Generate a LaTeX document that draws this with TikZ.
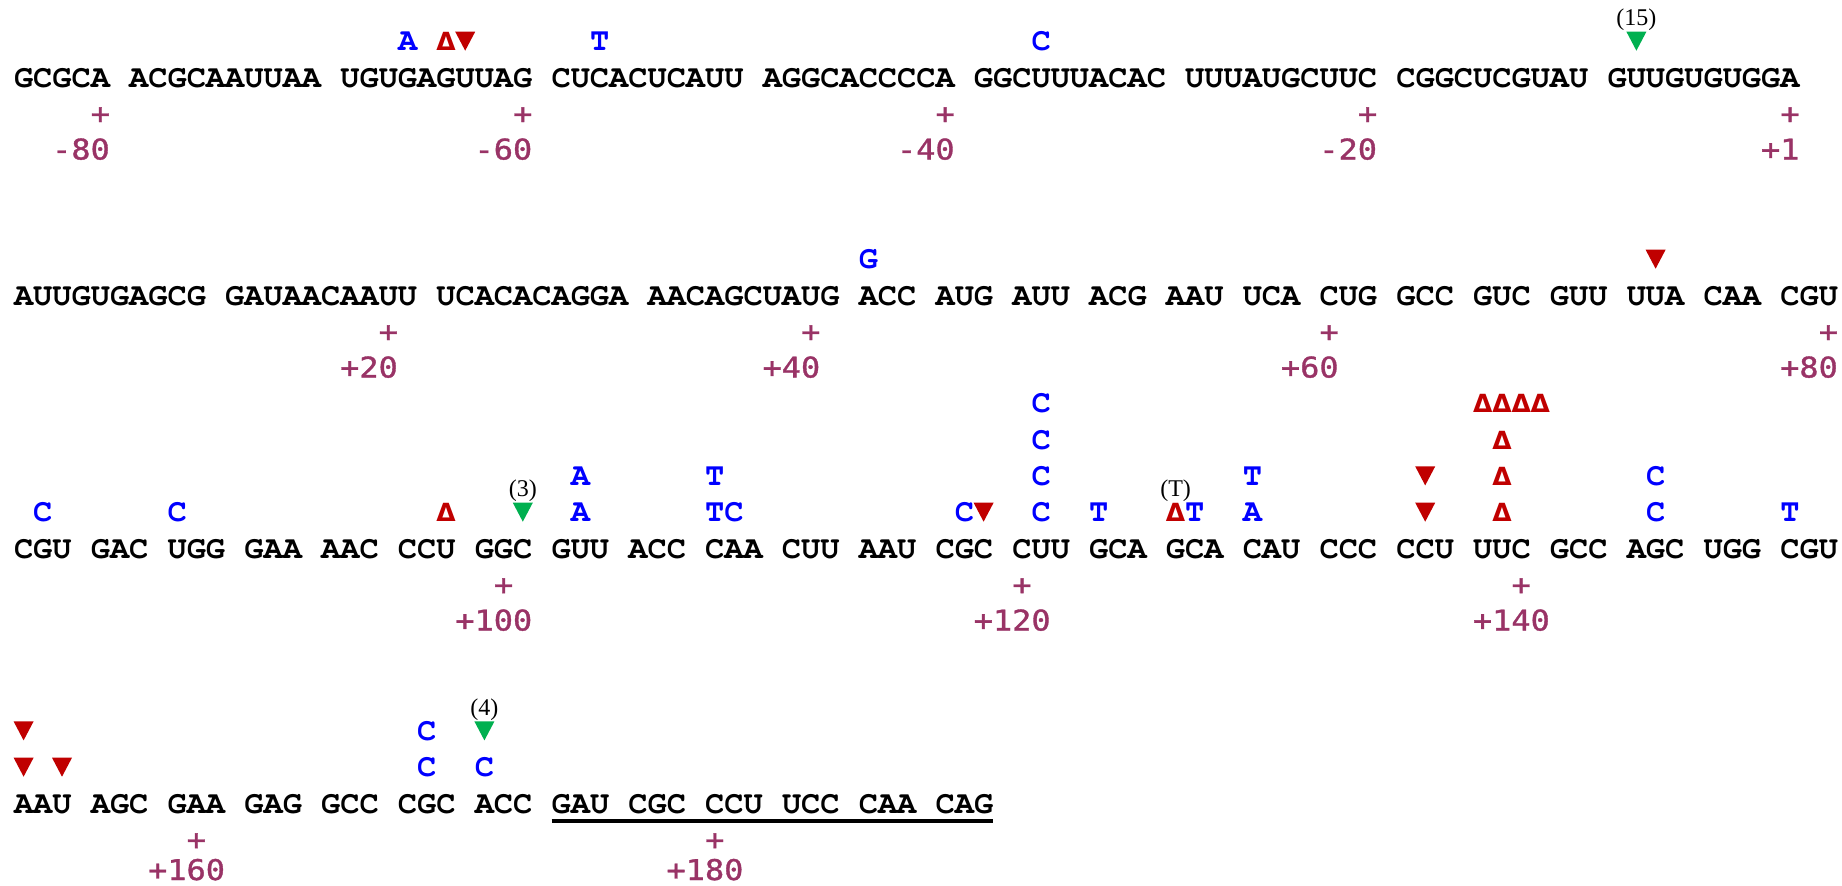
\documentclass[tikz,border=0pt]{standalone}
\usepackage{fontspec}
\newfontfamily\seqfont{texgyrecursor}[Extension=.otf,UprightFont=*-regular,BoldFont=*-bold]
\newfontfamily\numfont{DejaVu Sans Mono}[FakeStretch=1.12,FakeBold=1.2]
\newfontfamily\delfont{DejaVu Sans}
\newfontfamily\labfont{Liberation Serif}
\definecolor{seqblue}{RGB}{0,0,255}
\definecolor{mutred}{RGB}{192,0,0}
\definecolor{insgreen}{RGB}{0,176,80}
\definecolor{posplum}{RGB}{153,51,102}
\tikzset{
  seqtext/.style={font=\seqfont\bfseries\fontsize{32}{38}\selectfont, anchor=base west, inner sep=0pt, outer sep=0pt},
  subst/.style={font=\seqfont\bfseries\fontsize{32}{38}\selectfont, text=seqblue, anchor=base, inner sep=0pt},
  dele/.style={font=\delfont\bfseries\fontsize{25}{28}\selectfont, text=mutred, anchor=base, inner sep=0pt},
  tick/.style={font=\numfont\fontsize{28.5}{32}\selectfont, text=posplum, anchor=center, inner sep=0pt},
  posnum/.style={font=\numfont\fontsize{28.5}{32}\selectfont, text=posplum, anchor=base east, inner sep=0pt},
  note/.style={font=\labfont\fontsize{24}{28}\selectfont, anchor=base, inner sep=0pt},
  ulin/.style={line width=3.5pt},
}
\newcommand\downtri[3]{\fill[#3] ({#1-10},{#2-19}) -- ({#1+10},{#2-19}) -- ({#1},{#2}) -- cycle;}
\begin{document}
\begin{tikzpicture}[x=1pt,y=-1pt]
\useasboundingbox (0,0) rectangle (1842,886);
\fill[white] (0,0) rectangle (1842,886);

% ---------------- Row 1 (baseline 87)
\node[seqtext] (row1) at (14,87) {GCGCA ACGCAAUUAA UGUGAGUUAG CUCACUCAUU AGGCACCCCA GGCUUUACAC UUUAUGCUUC CGGCUCGUAU GUUGUGUGGA};
\foreach \c/\l/\s in {20/1/A, 30/1/T, 53/1/C}{
  \node[subst] (r1s\c-\l) at ({23.6+19.2*\c},{87-36.3*\l}) {\s};}
\foreach \c/\l in {22/1}{
  \node[dele] (r1d\c-\l) at ({23.6+19.2*\c},{87-36.3*\l}) {Δ};}
\foreach \c/\l in {23/1}{
  \pgfmathsetmacro\X{23.6+19.2*\c}\pgfmathsetmacro\Y{87-36.3*\l}
  \downtri{\X}{\Y}{mutred}}
\pgfmathsetmacro\X{23.6+19.2*84}\pgfmathsetmacro\Y{87-36.3}
\downtri{\X}{\Y}{insgreen}
\node[note] (r1lab) at ({\X},{\Y-25}) {(15)};
\foreach \c/\v in {4/-80, 26/-60, 48/-40, 70/-20, 92/+1}{
  \node[tick] (r1t\c) at ({23.6+19.2*\c},{87+28.5}) {+};
  \node[posnum] (r1n\c) at ({33.2+19.2*\c},{87+72.5}) {\v};}

% ---------------- Row 2 (baseline 305)
\node[seqtext] (row2) at (14,305) {AUUGUGAGCG GAUAACAAUU UCACACAGGA AACAGCUAUG ACC AUG AUU ACG AAU UCA CUG GCC GUC GUU UUA CAA CGU};
\foreach \c/\l/\s in {44/1/G}{
  \node[subst] (r2s\c-\l) at ({23.6+19.2*\c},{305-36.3*\l}) {\s};}
\foreach \c/\l in {85/1}{
  \pgfmathsetmacro\X{23.6+19.2*\c}\pgfmathsetmacro\Y{305-36.3*\l}
  \downtri{\X}{\Y}{mutred}}
\foreach \c/\v in {19/+20, 41/+40, 68/+60, 94/+80}{
  \node[tick] (r2t\c) at ({23.6+19.2*\c},{305+28.5}) {+};
  \node[posnum] (r2n\c) at ({33.2+19.2*\c},{305+72.5}) {\v};}

% ---------------- Row 3 (baseline 558)
\node[seqtext] (row3) at (14,558) {CGU GAC UGG GAA AAC CCU GGC GUU ACC CAA CUU AAU CGC CUU GCA GCA CAU CCC CCU UUC GCC AGC UGG CGU};
\foreach \c/\l/\s in {1/1/C, 8/1/C, 29/1/A, 29/2/A, 36/1/T, 37/1/C, 36/2/T, 49/1/C,
    53/1/C, 53/2/C, 53/3/C, 53/4/C, 56/1/T, 61/1/T, 64/1/A, 64/2/T, 85/1/C, 85/2/C, 92/1/T}{
  \node[subst] (r3s\c-\l) at ({23.6+19.2*\c},{558-36.3*\l}) {\s};}
\foreach \c/\l in {22/1, 60/1, 77/1, 77/2, 77/3, 76/4, 77/4, 78/4, 79/4}{
  \node[dele] (r3d\c-\l) at ({23.6+19.2*\c},{558-36.3*\l}) {Δ};}
\foreach \c/\l in {50/1, 73/1, 73/2}{
  \pgfmathsetmacro\X{23.6+19.2*\c}\pgfmathsetmacro\Y{558-36.3*\l}
  \downtri{\X}{\Y}{mutred}}
\pgfmathsetmacro\X{23.6+19.2*26}\pgfmathsetmacro\Y{558-36.3}
\downtri{\X}{\Y}{insgreen}
\node[note] (r3lab) at ({\X},{\Y-25}) {(3)};
\node[note] (r3labT) at ({23.6+19.2*60},{558-36.3-25}) {(T)};
\foreach \c/\v in {25/+100, 52/+120, 78/+140}{
  \node[tick] (r3t\c) at ({23.6+19.2*\c},{558+28.5}) {+};
  \node[posnum] (r3n\c) at ({52.4+19.2*\c},{558+72.5}) {\v};}

% ---------------- Row 4 (baseline 813)
\node[seqtext] (row4a) at (14,813) {AAU AGC GAA GAG GCC CGC ACC};
\node[seqtext] (row4b) at ({14+19.2*28},813) {GAU CGC CCU UCC CAA CAG};
\draw[ulin] ([yshift=-8pt]row4b.base west) -- ([yshift=-8pt]row4b.base east);
\foreach \c/\l/\s in {21/1/C, 21/2/C, 24/1/C}{
  \node[subst] (r4s\c-\l) at ({23.6+19.2*\c},{813-36.3*\l}) {\s};}
\foreach \c/\l in {0/1, 0/2, 2/1}{
  \pgfmathsetmacro\X{23.6+19.2*\c}\pgfmathsetmacro\Y{813-36.3*\l}
  \downtri{\X}{\Y}{mutred}}
\pgfmathsetmacro\X{23.6+19.2*24}\pgfmathsetmacro\Y{813-2*36.3}
\downtri{\X}{\Y}{insgreen}
\node[note] (r4lab) at ({\X},{\Y-25}) {(4)};
\foreach \c/\v in {9/+160, 36/+180}{
  \node[tick] (r4t\c) at ({23.6+19.2*\c},{813+28.5}) {+};
  \node[posnum] (r4n\c) at ({52.4+19.2*\c},{813+67}) {\v};}
\end{tikzpicture}
\end{document}
